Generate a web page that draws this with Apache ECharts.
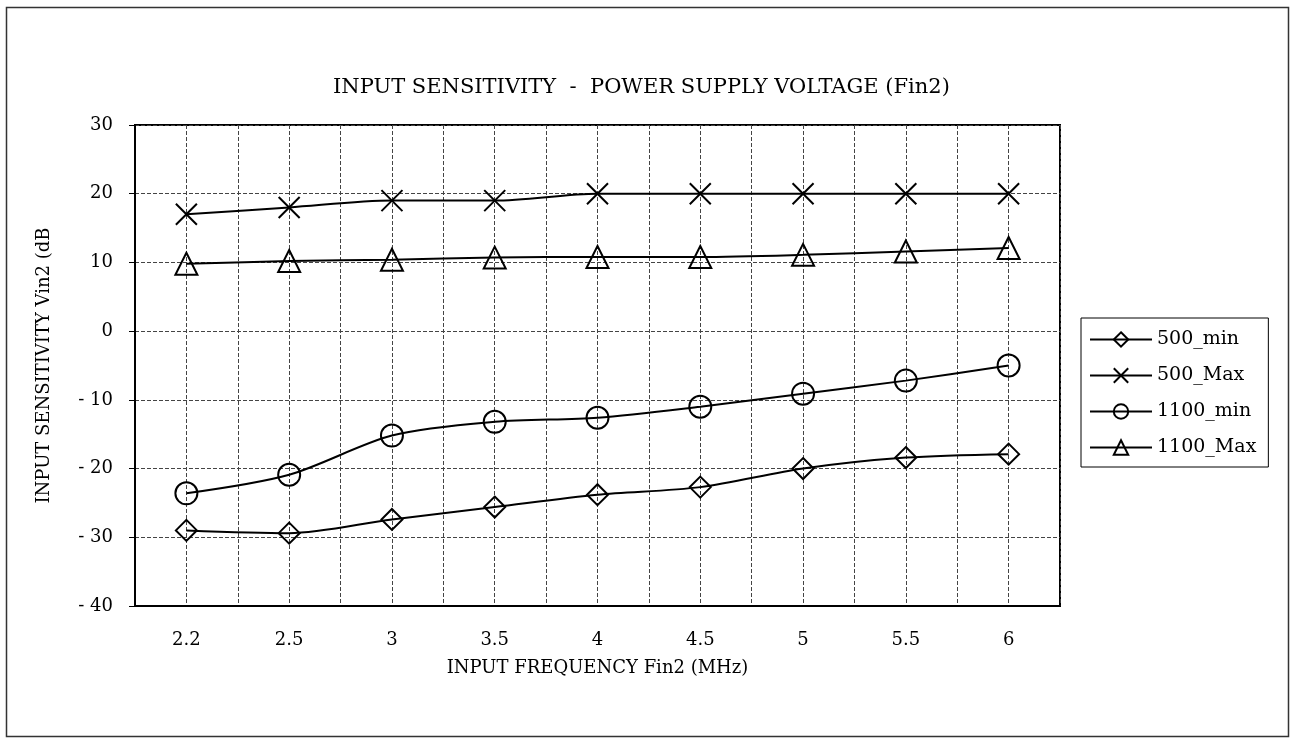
<!DOCTYPE html>
<html>
<head>
<meta charset="utf-8">
<script src="https://cdn.jsdelivr.net/npm/echarts@6/dist/echarts.min.js"></script>
<style>
  html, body { margin: 0; padding: 0; background: #fff; }
  #chart { width: 1295px; height: 742px; }
</style>
</head>
<body>
<div id="chart"></div>
<script>
// frequency categories (MHz)
const freqs = ['2.2', '2.5', '3', '3.5', '4', '4.5', '5', '5.5', '6'];

// input sensitivity (dB) per series
const min500 = [-29.0, -29.4, -27.4, -25.6, -23.8, -22.7, -20.0, -18.4, -17.9];
const max500 = [17, 18, 19, 19, 20, 20, 20, 20, 20];
const min1100 = [-23.6, -20.9, -15.2, -13.2, -12.6, -11.0, -9.1, -7.2, -5.0];
const max1100 = [9.8, 10.2, 10.4, 10.7, 10.8, 10.8, 11.1, 11.6, 12.1];

const seriesNames = ['500_min', '500_Max', '1100_min', '1100_Max'];

const serif = 'DejaVu Serif';
const crossPath = 'path://M0,0L10,10M10,0L0,10';

const chart = echarts.init(document.getElementById('chart'));

// common look of one curve
const curve = (name, data, symbol, size) => ({
  name,
  type: 'line',
  data,
  smooth: 0.3,
  symbol,
  symbolSize: size,
  showAllSymbol: true,
  lineStyle: { color: '#000', width: 2 },
  itemStyle: { color: 'rgba(255,255,255,0)', borderColor: '#000', borderWidth: 2 },
  emphasis: { disabled: true },
  z: 5,
});

const option = {
  backgroundColor: '#fff',
  animation: false,
  title: {
    text: 'INPUT SENSITIVITY  -  POWER SUPPLY VOLTAGE (Fin2)',
    left: 328,
    top: 72,
    textStyle: { fontFamily: serif, fontSize: 21, fontWeight: 'normal', color: '#000' },
  },
  graphic: [
    {
      type: 'rect',
      shape: { x: 6.5, y: 7.5, width: 1282, height: 729 },
      style: { fill: 'none', stroke: '#333', lineWidth: 1.5 },
      silent: true,
      z: -1,
    },
  ],
  legend: {
    orient: 'vertical',
    left: 1081,
    top: 318,
    padding: [12, 12, 10, 8],
    itemGap: 17,
    itemWidth: 62,
    itemHeight: 18,
    borderColor: '#000',
    borderWidth: 1,
    data: seriesNames,
    textStyle: { fontFamily: serif, fontSize: 19, color: '#000' },
  },
  grid: {
    left: 135,
    top: 125,
    right: 235,
    bottom: 136,
    show: true,
    borderColor: '#000',
    borderWidth: 2,
    backgroundColor: 'transparent',
  },
  xAxis: [
    {
      type: 'category',
      data: freqs,
      boundaryGap: true,
      name: 'INPUT FREQUENCY Fin2 (MHz)',
      nameLocation: 'middle',
      nameGap: 53,
      nameTextStyle: { fontFamily: serif, fontSize: 18, color: '#000' },
      axisLine: { onZero: false, lineStyle: { color: '#000', width: 2 } },
      axisTick: { show: false },
      axisLabel: { margin: 25, fontFamily: serif, fontSize: 18, color: '#000' },
      splitLine: { show: false },
    },
    {
      // helper axis for dashed vertical gridlines at centres and boundaries
      type: 'value',
      min: 0,
      max: 18,
      interval: 1,
      position: 'bottom',
      axisLine: { show: false },
      axisTick: { show: false },
      axisLabel: { show: false },
      splitLine: { show: true, lineStyle: { color: '#444', type: [4, 2], width: 1 } },
    },
  ],
  yAxis: {
    type: 'value',
    min: -40,
    max: 30,
    interval: 10,
    name: 'INPUT SENSITIVITY Vin2 (dB',
    nameLocation: 'middle',
    nameGap: 82,
    nameTextStyle: { fontFamily: serif, fontSize: 18, color: '#000' },
    axisLine: { show: true, onZero: false, lineStyle: { color: '#000', width: 2 } },
    axisTick: { show: true, length: 6, lineStyle: { color: '#000', width: 1 } },
    axisLabel: {
      margin: 22,
      fontFamily: serif,
      fontSize: 18,
      color: '#000',
      formatter: v => (v < 0 ? '- ' + Math.abs(v) : String(v)),
    },
    splitLine: { show: true, lineStyle: { color: '#444', type: [4, 2], width: 1 } },
  },
  series: [
    curve('500_min', min500, 'diamond', 21),
    curve('500_Max', max500, crossPath, 21),
    curve('1100_min', min1100, 'circle', 22),
    curve('1100_Max', max1100, 'triangle', 22),
  ],
};

chart.setOption(option);
</script>
</body>
</html>
